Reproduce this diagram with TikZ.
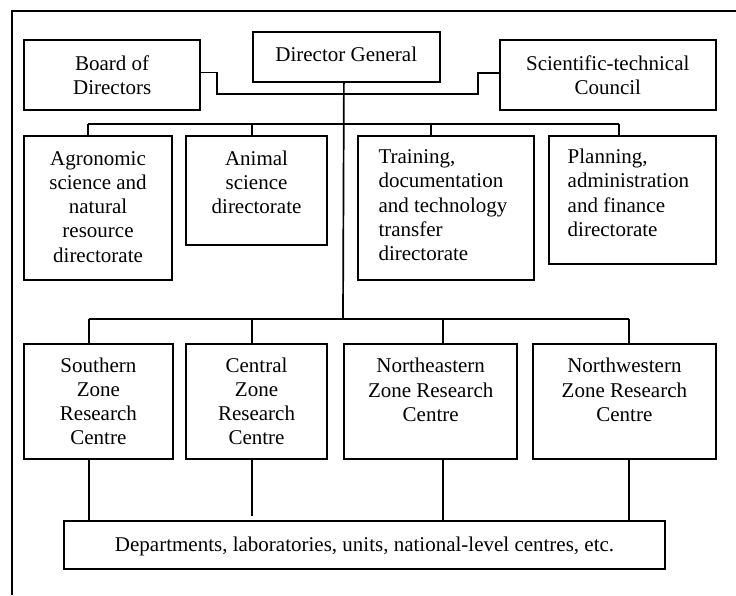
\documentclass[tikz,border=0pt]{standalone}
\usepackage{fontspec}
\setmainfont{Liberation Serif}
\begin{document}
\begin{tikzpicture}[x=1pt,y=-1pt,
  box/.style={draw, rectangle, line width=1.8pt, inner sep=0pt, anchor=north west},
  txt/.style={inner sep=0pt, font=\fontsize{21}{24.3}\selectfont},
  conn/.style={line width=1.7pt},
  frameline/.style={line width=2pt}]
\useasboundingbox (0,0) rectangle (736,595);

% outer frame (top and left only)
\coordinate (fbl) at (11.7,595);
\coordinate (ftl) at (11.7,11);
\coordinate (ftr) at (736,11);
\draw[frameline] (fbl) -- (ftl) -- (ftr);

% boxes
\node[box, minimum width=176pt,   minimum height=69.7pt]  (board)    at (23.3,39.3)  {};
\node[box, minimum width=187.3pt, minimum height=50pt]    (dg)       at (251.7,31)   {};
\node[box, minimum width=215.7pt, minimum height=69.7pt]  (sci)      at (499,39.3)   {};
\node[box, minimum width=147.7pt, minimum height=144pt]   (agro)     at (23.3,135)   {};
\node[box, minimum width=140.7pt, minimum height=108.7pt] (animal)   at (185.3,135)  {};
\node[box, minimum width=175.7pt, minimum height=144pt]   (training) at (357.3,135)  {};
\node[box, minimum width=166.7pt, minimum height=127.7pt] (planning) at (548,135)    {};
\node[box, minimum width=148.4pt, minimum height=115pt]   (south)    at (23.3,342.7) {};
\node[box, minimum width=140.7pt, minimum height=115pt]   (central)  at (185.3,342.7){};
\node[box, minimum width=173pt,   minimum height=115pt]   (ne)       at (343.3,342.7){};
\node[box, minimum width=183.6pt, minimum height=115pt]   (nw)       at (531.7,342.7){};
\node[box, minimum width=600.7pt, minimum height=48.3pt]  (bottom)   at (63.3,520)   {};

% texts
\node[txt, anchor=base] (board-t) at ([yshift=-30.7pt]board.north)
  {\parbox[t]{170pt}{\centering Board of\\Directors}};
\node[txt, anchor=base] (dg-t) at ([yshift=-30.7pt]dg.north)
  {\parbox[t]{180pt}{\centering Director General}};
\node[txt, anchor=base] (sci-t) at ([yshift=-30.7pt]sci.north)
  {\parbox[t]{210pt}{\centering Scientific-technical\\Council}};
\node[txt, anchor=base] (agro-t) at ([yshift=-30pt]agro.north)
  {\parbox[t]{145pt}{\centering Agronomic\\science and\\natural\\resource\\directorate}};
\node[txt, anchor=base] (animal-t) at ([yshift=-30pt]animal.north)
  {\parbox[t]{138pt}{\centering Animal\\science\\directorate}};
\node[txt, anchor=base west] (training-t) at ([xshift=21pt,yshift=-28.5pt]training.north west)
  {\parbox[t]{150pt}{\raggedright Training,\\documentation\\and technology\\transfer\\directorate}};
\node[txt, anchor=base west] (planning-t) at ([xshift=19.5pt,yshift=-28.5pt]planning.north west)
  {\parbox[t]{145pt}{\raggedright Planning,\\administration\\and finance\\directorate}};
\node[txt, anchor=base] (south-t) at ([yshift=-29.3pt]south.north)
  {\parbox[t]{145pt}{\centering Southern\\Zone\\Research\\Centre}};
\node[txt, anchor=base] (central-t) at ([yshift=-29.3pt]central.north)
  {\parbox[t]{138pt}{\centering Central\\Zone\\Research\\Centre}};
\node[txt, anchor=base] (ne-t) at ([yshift=-30pt]ne.north)
  {\parbox[t]{170pt}{\centering Northeastern\\Zone Research\\Centre}};
\node[txt, anchor=base] (nw-t) at ([yshift=-30pt]nw.north)
  {\parbox[t]{180pt}{\centering Northwestern\\Zone Research\\Centre}};
\node[txt, anchor=base] (bottom-t) at ([yshift=-31.5pt]bottom.north)
  {Departments, laboratories, units, national-level centres, etc.};

% advisory hooks
\coordinate (hl) at (216.7,94.3);
\coordinate (hr) at (478,94.3);
\draw[conn] ([yshift=2.5pt]board.east) -| (hl) -- (hr) |- ([yshift=1.9pt]sci.west);

% trunk
\coordinate (b3c) at (343,319.3);
\draw[conn] ([xshift=-2.35pt]dg.south) -- (b3c);

% directorate bus
\coordinate (b2a) at (88.3,124);
\coordinate (b2b) at (251.7,124);
\coordinate (b2c) at (430.7,124);
\coordinate (b2d) at (618.7,124);
\draw[conn] (b2a) -- (b2d);
\draw[conn] (b2a) -- (b2a |- agro.north);
\draw[conn] (b2b) -- (b2b |- animal.north);
\draw[conn] (b2c) -- (b2c |- training.north);
\draw[conn] (b2d) -- (b2d |- planning.north);

% zone bus
\coordinate (b3a) at (89,319.3);
\coordinate (b3b) at (251.7,319.3);
\coordinate (b3n) at (443,319.3);
\coordinate (b3w) at (629.3,319.3);
\draw[conn] (b3a) -- (b3w);
\draw[conn] (b3a) -- (b3a |- south.north);
\draw[conn] (b3b) -- (b3b |- central.north);
\draw[conn] (b3n) -- (b3n |- ne.north);
\draw[conn] (b3w) -- (b3w |- nw.north);

% zones to departments
\coordinate (ce) at (251.7,516);
\draw[conn] (b3a |- south.south) -- (b3a |- bottom.north);
\draw[conn] (b3b |- central.south) -- (ce);
\draw[conn] (b3n |- ne.south) -- (b3n |- bottom.north);
\draw[conn] (b3w |- nw.south) -- (b3w |- bottom.north);
\end{tikzpicture}
\end{document}
